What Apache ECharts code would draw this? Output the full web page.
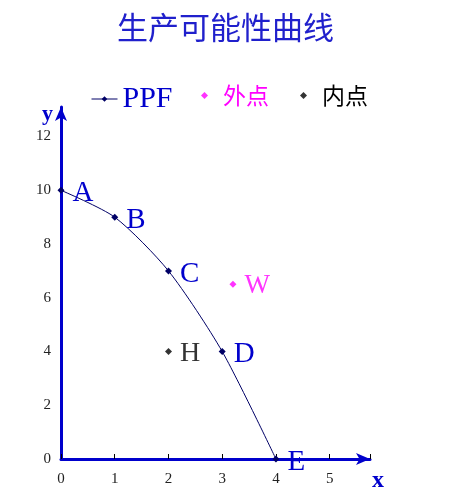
<!DOCTYPE html>
<html>
<head>
<meta charset="utf-8">
<script src="https://cdn.jsdelivr.net/npm/echarts@6/dist/echarts.min.js"></script>
<style>html,body{margin:0;padding:0;background:#fff;}#main{width:451px;height:500px;}</style>
</head>
<body>
<div id="main"></div>
<script>
// ---- data ----
const ppfX = [0, 1, 2, 3, 4];
const ppfY = [10, 9, 7, 4, 0];
const ppfNames = ['A', 'B', 'C', 'D', 'E'];
const outerX = [3.2];
const outerY = [6.5];
const outerNames = ['W'];
const innerX = [2];
const innerY = [4];
const innerNames = ['H'];
const xTicks = [0, 1, 2, 3, 4, 5];
const yTicks = [0, 2, 4, 6, 8, 10, 12];
const seriesNames = ['PPF', '外点', '内点'];
const titleText = '生产可能性曲线';

const blue = '#0000cc';
const navy = '#000066';
const magenta = '#ff00ff';
const serif = '"Liberation Serif", "DejaVu Serif", serif';
const cjk = '"Noto Sans CJK SC", sans-serif';

function pts(xs, ys, names) {
  return xs.map((x, i) => ({ value: [x, ys[i]], name: names[i] }));
}

const chart = echarts.init(document.getElementById('main'));
chart.setOption({
  backgroundColor: '#fff',
  animation: false,
  title: {
    text: titleText, left: 'center', top: 7,
    textStyle: { fontFamily: cjk, fontSize: 31, fontWeight: 'normal', color: '#2020cc' }
  },
  legend: [
    { left: 86, top: 79, itemWidth: 26, itemHeight: 7, lineStyle: { width: 1 },
      data: [{ name: seriesNames[0], textStyle: { color: blue, fontFamily: serif, fontSize: 30 } }] },
    { left: 196, top: 79, itemWidth: 7, itemHeight: 7, data: [{ name: seriesNames[1], icon: 'diamond', textStyle: { color: magenta, fontFamily: cjk, fontSize: 23, padding: [0, 0, 0, 10] } }] },
    { left: 295, top: 79, itemWidth: 7, itemHeight: 7, data: [{ name: seriesNames[2], icon: 'diamond', textStyle: { color: '#000', fontFamily: cjk, fontSize: 23, padding: [0, 0, 0, 10] } }] }
  ],
  grid: { left: 61, right: 81, top: 107, bottom: 41 },
  xAxis: {
    type: 'value', min: 0, max: 5.75, interval: 1,
    name: 'x', nameLocation: 'end', nameGap: 2,
    nameTextStyle: { color: blue, fontFamily: serif, fontSize: 24, fontWeight: 'bold', verticalAlign: 'top', padding: [10, 0, 0, 0] },
    axisLine: { show: true, symbol: ['none', 'arrow'], symbolSize: [9, 14], lineStyle: { color: blue, width: 3 } },
    axisTick: { show: true, inside: true, length: 5, lineStyle: { color: '#000', width: 1 } },
    axisLabel: {
      margin: 13, color: '#222', fontFamily: serif, fontSize: 15,
      formatter: v => (xTicks.indexOf(v) >= 0 ? String(v) : '')
    },
    splitLine: { show: false }
  },
  yAxis: {
    type: 'value', min: 0, max: 13.1, interval: 2,
    name: 'y', nameLocation: 'end', nameGap: -18,
    nameTextStyle: { color: blue, fontFamily: serif, fontSize: 22, fontWeight: 'bold', align: 'right', padding: [0, 8, 0, 0] },
    axisLine: { show: true, symbol: ['none', 'arrow'], symbolSize: [9, 14], lineStyle: { color: blue, width: 3 } },
    axisTick: { show: false },
    axisLabel: {
      margin: 10, color: '#222', fontFamily: serif, fontSize: 15,
      formatter: v => (yTicks.indexOf(v) >= 0 ? String(v) : '')
    },
    splitLine: { show: false }
  },
  series: [
    {
      name: seriesNames[0], type: 'line', smooth: 0.25,
      data: pts(ppfX, ppfY, ppfNames),
      symbol: 'diamond', symbolSize: 7,
      lineStyle: { color: navy, width: 1 },
      itemStyle: { color: navy },
      label: { show: true, position: 'right', distance: 8, offset: [0, 3], formatter: p => p.name, color: blue, fontFamily: serif, fontSize: 29 },
      z: 5
    },
    {
      name: seriesNames[1], type: 'scatter',
      data: pts(outerX, outerY, outerNames),
      symbol: 'diamond', symbolSize: 7,
      itemStyle: { color: magenta },
      label: { show: true, position: 'right', distance: 8, offset: [0, 2], formatter: p => p.name, color: magenta, fontFamily: serif, fontSize: 27 }
    },
    {
      name: seriesNames[2], type: 'scatter',
      data: pts(innerX, innerY, innerNames),
      symbol: 'diamond', symbolSize: 7,
      itemStyle: { color: '#000' },
      label: { show: true, position: 'right', distance: 8, offset: [0, 2], formatter: p => p.name, color: '#000', fontFamily: serif, fontSize: 28 }
    }
  ]
});
</script>
</body>
</html>
